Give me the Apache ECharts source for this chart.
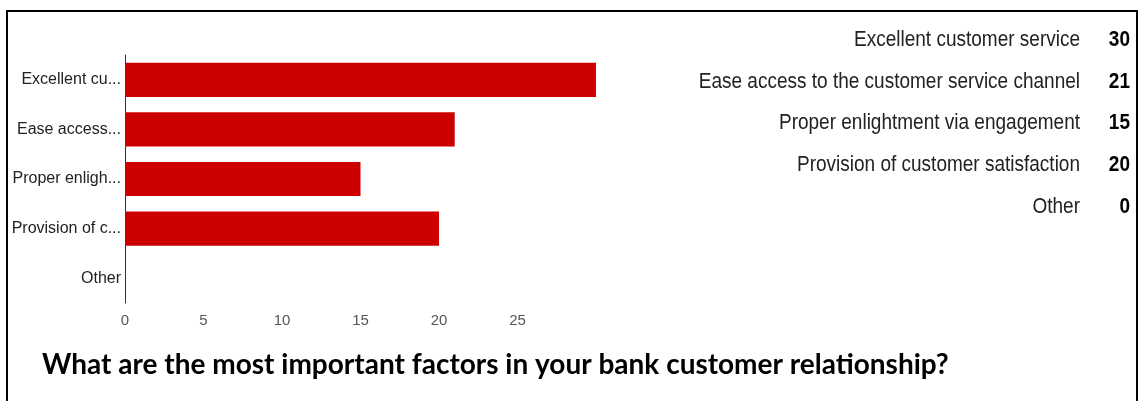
<!DOCTYPE html>
<html>
<head>
<meta charset="utf-8">
<script src="https://cdn.jsdelivr.net/npm/echarts@6/dist/echarts.min.js"></script>
<style>
  html, body { margin: 0; padding: 0; background: #fff; }
  #chart { width: 1142px; height: 401px; }
</style>
</head>
<body>
<div id="chart"></div>
<script>
// Survey answers and their response counts
const categories = [
  'Excellent customer service',
  'Ease access to the customer service channel',
  'Proper enlightment via engagement',
  'Provision of customer satisfaction',
  'Other'
];
const axisLabels = ['Excellent cu...', 'Ease access...', 'Proper enligh...', 'Provision of c...', 'Other'];
const counts = [30, 21, 15, 20, 0];
const axisTicks = [0, 5, 10, 15, 20, 25];
const title = 'What are the most important factors in your bank customer relationship?';

const chart = echarts.init(document.getElementById('chart'), null, { renderer: 'canvas' });

// Answer / count table on the right
const tableFont = '"Liberation Sans", Arial, sans-serif';
const tableTexts = [];
categories.forEach((c, i) => {
  const y = 40 + i * 41.8;
  tableTexts.push({
    type: 'text', x: 1080, y: y, scaleY: 1.12,
    style: { text: c, font: '19px ' + tableFont, fill: '#222', align: 'right', verticalAlign: 'middle' }
  });
  tableTexts.push({
    type: 'text', x: 1130, y: y, scaleY: 1.12,
    style: { text: String(counts[i]), font: 'bold 19px ' + tableFont, fill: '#000', align: 'right', verticalAlign: 'middle' }
  });
});

chart.setOption({
  backgroundColor: '#fff',
  animation: false,
  grid: { left: 125, right: 546, top: 55, bottom: 98, containLabel: false },
  xAxis: {
    type: 'value', min: 0, max: 30, interval: 5,
    axisLine: { show: false }, axisTick: { show: false },
    splitLine: { show: false },
    axisLabel: {
      showMaxLabel: false, margin: 10,
      color: '#555', fontSize: 15, fontFamily: '"Liberation Sans", Arial, sans-serif',
      formatter: v => axisTicks.indexOf(v) >= 0 ? String(v) : ''
    }
  },
  yAxis: {
    type: 'category', inverse: true, data: categories,
    axisLine: { show: true, lineStyle: { color: '#333', width: 1 } },
    axisTick: { show: false },
    axisLabel: {
      margin: 4, color: '#222', fontSize: 16,
      fontFamily: '"Liberation Sans", Arial, sans-serif',
      formatter: (v, i) => axisLabels[i]
    }
  },
  series: [{
    type: 'bar', data: counts, barCategoryGap: '31%',
    itemStyle: { color: '#cc0000' }, silent: true
  }],
  graphic: [
    { type: 'rect', shape: { x: 7, y: 11, width: 1130, height: 400 },
      style: { fill: 'none', stroke: '#000', lineWidth: 2 }, z: 100 },
    { type: 'text', x: 42, y: 365,
      style: { text: title, font: 'bold 28px Lato, "Open Sans", sans-serif', fill: '#000', verticalAlign: 'middle' } },
    ...tableTexts
  ]
});
</script>
</body>
</html>
